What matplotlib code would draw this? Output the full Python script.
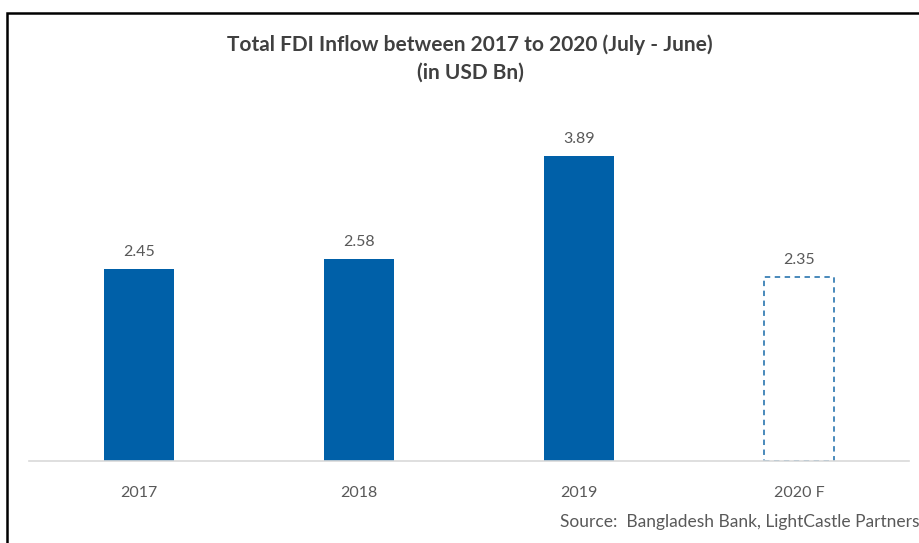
import matplotlib.pyplot as plt
from matplotlib.patches import Rectangle

years = ["2017", "2018", "2019", "2020 F"]
fdi = [2.45, 2.58, 3.89, 2.35]
forecast = [False, False, False, True]

W, H = 920, 543
blue = "#0060A8"
dash_blue = "#3A80B5"
txt = "#595959"

plt.rcParams['font.family'] = ['Lato', 'DejaVu Sans']

fig = plt.figure(figsize=(W / 100, H / 100), dpi=100)
ax = fig.add_axes([29 / W, (H - 461) / H, 880 / W, 353 / H])

x = range(len(years))
for i, (v, f) in enumerate(zip(fdi, forecast)):
    if f:
        ax.bar(i, v, width=0.32, facecolor="none", edgecolor=dash_blue,
               linestyle=(0, (3, 2.5)), linewidth=1.3)
    else:
        ax.bar(i, v, width=0.32, color=blue)
    ax.text(i, v + 0.12, f"{v:.2f}", ha="center", va="bottom",
            fontsize=11.5, color=txt)

ax.set_xlim(-0.5, 3.5)
ax.set_ylim(0, 4.5)
ax.set_xticks(list(x))
ax.set_xticklabels(years, fontsize=11.5, color=txt)
ax.tick_params(axis="x", length=0, pad=18)
ax.set_yticks([])
for s in ["top", "right", "left"]:
    ax.spines[s].set_visible(False)
ax.spines["bottom"].set_color("#D9D9D9")
ax.spines["bottom"].set_linewidth(1.2)

fig.text(470 / W, 1 - 45 / H, "Total FDI Inflow between 2017 to 2020 (July - June)",
         ha="center", va="center", fontsize=15, fontweight="bold", color="#404040")
fig.text(470 / W, 1 - 73 / H, "(in USD Bn)",
         ha="center", va="center", fontsize=15, fontweight="bold", color="#404040")
fig.text(560 / W, 1 - 522 / H, "Source:  Bangladesh Bank, LightCastle Partners",
         ha="left", va="center", fontsize=12.5, color=txt)

# outer frame (left and top edges visible, rest runs off the image)
fig.patches.append(Rectangle((7.5 / W, -0.1), 1.2, 1 - 13 / H + 0.1,
                             transform=fig.transFigure, fill=False,
                             edgecolor="black", linewidth=1.8))

fig.savefig("out.png", dpi=100)
